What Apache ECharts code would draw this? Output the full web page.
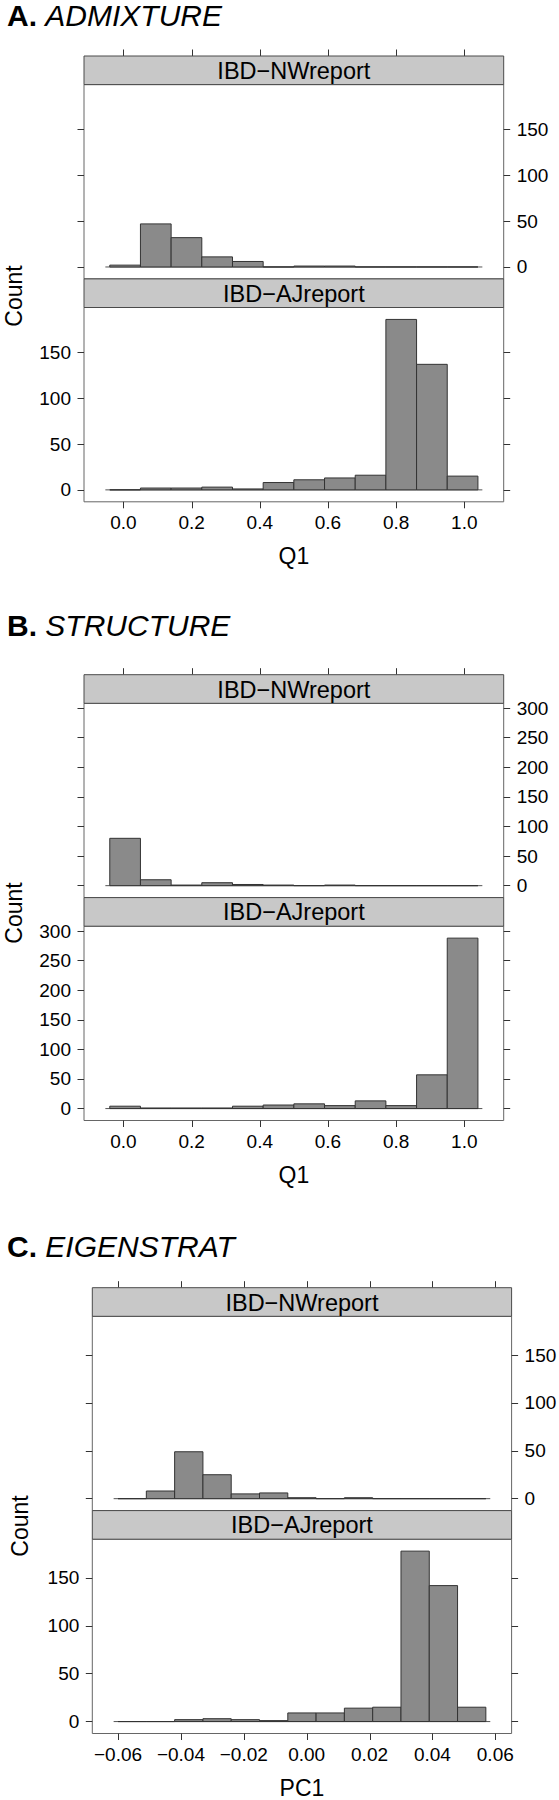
<!DOCTYPE html>
<html>
<head>
<meta charset="utf-8">
<script src="https://cdn.jsdelivr.net/npm/echarts@6/dist/echarts.min.js"></script>
<style>
html, body { margin: 0; padding: 0; background: #ffffff; }
#c { width: 559px; height: 1800px; }
</style>
</head>
<body>
<div id="c"></div>
<script>
// ---------------- data ----------------
const panelLetters = ['A.', 'B.', 'C.'];
const panelMethods = ['ADMIXTURE', 'STRUCTURE', 'EIGENSTRAT'];
const stripLabels = ['IBD\u2212NWreport', 'IBD\u2212AJreport'];
const xAxisNames = ['Q1', 'Q1', 'PC1'];
const yAxisName = 'Count';

const xTicksQ1 = [0, 0.2, 0.4, 0.6, 0.8, 1.0];
const xTicksPC1 = [-0.06, -0.04, -0.02, 0, 0.02, 0.04, 0.06];
const yTicksA = [0, 50, 100, 150];
const yTicksB = [0, 50, 100, 150, 200, 250, 300];
const yTicksC = [0, 50, 100, 150];

// histogram bin edges
const breaksA = [-0.04, 0.05, 0.14, 0.23, 0.32, 0.41, 0.50, 0.59, 0.68, 0.77, 0.86, 0.95, 1.04];
const breaksB = [-0.04, 0.05, 0.14, 0.23, 0.32, 0.41, 0.50, 0.59, 0.68, 0.77, 0.86, 0.95, 1.04];
const breaksC = [-0.060, -0.051, -0.042, -0.033, -0.024, -0.015, -0.006, 0.003, 0.012, 0.021, 0.030, 0.039, 0.048, 0.057];

// counts per bin
const countsA_NW = [2, 47, 32, 11, 6, 0, 1, 1, 0, 0, 0, 0];
const countsA_AJ = [0, 2, 2, 3, 1, 8, 11, 13, 16, 186, 137, 15];
const countsB_NW = [80, 10, 1, 5, 2, 1, 0, 1, 0, 0, 0, 0];
const countsB_AJ = [4, 1, 1, 1, 4, 6, 8, 5, 13, 5, 57, 288];
const countsC_NW = [0, 8, 49, 25, 5, 6, 1, 0, 1, 0, 0, 0, 0];
const countsC_AJ = [0, 0, 2, 3, 2, 1, 9, 9, 14, 15, 178, 142, 15];

// ---------------- layout / style ----------------
const FONT = '"Liberation Sans", Arial, Helvetica, sans-serif';
const STRIP_H = 28.6;
const PLOT_H = 194.3;
const TICK_LEN = 6.5;
const panels = [
  { letter: panelLetters[0], method: panelMethods[0], breaks: breaksA, nw: countsA_NW, aj: countsA_AJ,
    xTicks: xTicksQ1, yTicks: yTicksA, xName: xAxisNames[0], dec: 1,
    left: 84, width: 419.7, top: 56, titleY: 15.5, countX: 13.5, countY: 296 },
  { letter: panelLetters[1], method: panelMethods[1], breaks: breaksB, nw: countsB_NW, aj: countsB_AJ,
    xTicks: xTicksQ1, yTicks: yTicksB, xName: xAxisNames[1], dec: 1,
    left: 84, width: 419.7, top: 674.7, titleY: 625, countX: 13.5, countY: 913 },
  { letter: panelLetters[2], method: panelMethods[2], breaks: breaksC, nw: countsC_NW, aj: countsC_AJ,
    xTicks: xTicksPC1, yTicks: yTicksC, xName: xAxisNames[2], dec: 2,
    left: 92.3, width: 419.3, top: 1287.7, titleY: 1246, countX: 20, countY: 1526 }
];

const BAR_FILL = '#8a8a8a';
const BAR_STROKE = '#333333';
const FRAME = '#666666';
const TICK = '#333333';
const STRIP_FILL = '#c8c8c8';
const STRIP_STROKE = '#4a4a4a';

function fmt(dec) {
  return function (v) {
    const s = Math.abs(v).toFixed(dec);
    return (v < -1e-12 ? '\u2212' : '') + s;
  };
}

const grids = [], xAxes = [], yAxes = [], series = [], graphics = [];
const hiddenAxis = { axisLine: { show: false, onZero: false }, axisTick: { show: false },
  axisLabel: { show: false }, splitLine: { show: false } };

// tick marks along x, drawn through the axis scale of a thin helper grid
function xTickSeries(xIdx, yIdx, ticks) {
  return {
    type: 'custom', xAxisIndex: xIdx, yAxisIndex: yIdx, silent: true, z: 5,
    data: ticks.map(function (v) { return [v, 0]; }),
    encode: { x: 0, y: 1 },
    renderItem: function (params, api) {
      const v = api.value(0);
      const a = api.coord([v, 0]);
      const b = api.coord([v, 1]);
      const x = Math.round(a[0]) + 0.5;
      return { type: 'line', shape: { x1: x, y1: a[1], x2: x, y2: b[1] },
        style: { stroke: TICK, lineWidth: 1 } };
    },
    animation: false
  };
}

panels.forEach(function (p) {
  const b0 = p.breaks[0], bN = p.breaks[p.breaks.length - 1], span = bN - b0;
  const xmin = b0 - 0.07 * span, xmax = bN + 0.07 * span;
  const yMaxData = Math.max.apply(null, p.nw.concat(p.aj));
  const ymin = -0.07 * yMaxData, ymax = 1.07 * yMaxData;
  const panelBottom = p.top + 2 * (STRIP_H + PLOT_H);

  // title
  graphics.push({
    type: 'text', x: 7, y: p.titleY,
    style: {
      text: '{b|' + p.letter + '} {i|' + p.method + '}',
      rich: {
        b: { fontFamily: FONT, fontSize: 30, fontWeight: 'bold', fill: '#000' },
        i: { fontFamily: FONT, fontSize: 30, fontStyle: 'italic', fill: '#000' }
      },
      fontFamily: FONT, fontSize: 30,
      align: 'left', verticalAlign: 'middle', textAlign: 'left', textVerticalAlign: 'middle'
    }
  });

  // helper grid carrying the "Count" axis title
  const g = grids.length;
  grids.push({ left: p.left, top: p.countY - 100, width: p.width, height: 200, show: false,
    containLabel: false, outerBoundsMode: 'none' });
  xAxes.push(Object.assign({ gridIndex: g, type: 'value', min: 0, max: 1 }, hiddenAxis));
  yAxes.push(Object.assign({ gridIndex: g, type: 'value', min: 0, max: 1, position: 'left',
    name: yAxisName, nameLocation: 'middle', nameRotate: 90, nameGap: p.left - p.countX - 11.5,
    nameTextStyle: { fontSize: 23, color: '#000', fontFamily: FONT } }, hiddenAxis));

  // thin helper grids above and below the panel: carry the x tick marks
  [p.top - TICK_LEN, panelBottom].forEach(function (t) {
    const tg = grids.length;
    grids.push({ left: p.left, top: t, width: p.width, height: TICK_LEN, show: false,
      containLabel: false, outerBoundsMode: 'none' });
    const xi = xAxes.length, yi = yAxes.length;
    xAxes.push(Object.assign({ gridIndex: tg, type: 'value', min: xmin, max: xmax }, hiddenAxis));
    yAxes.push(Object.assign({ gridIndex: tg, type: 'value', min: 0, max: 1 }, hiddenAxis));
    series.push(xTickSeries(xi, yi, p.xTicks));
  });

  [p.nw, p.aj].forEach(function (counts, j) {
    const gi = grids.length;
    const stripTop = p.top + j * (STRIP_H + PLOT_H);
    const gtop = stripTop + STRIP_H;
    // strip
    graphics.push({
      type: 'rect', shape: { x: p.left, y: stripTop, width: p.width, height: STRIP_H },
      style: { fill: STRIP_FILL, stroke: STRIP_STROKE, lineWidth: 1 }, z: 10
    });
    graphics.push({
      type: 'text', x: p.left + p.width / 2, y: stripTop + STRIP_H / 2 + 0.5, z: 11,
      style: {
        text: stripLabels[j], fontFamily: FONT, fontSize: 23.5, fill: '#000',
        align: 'center', verticalAlign: 'middle', textAlign: 'center', textVerticalAlign: 'middle'
      }
    });

    grids.push({
      left: p.left, top: gtop, width: p.width, height: PLOT_H,
      show: true, borderColor: FRAME, borderWidth: 1, backgroundColor: 'transparent',
      containLabel: false, outerBoundsMode: 'none'
    });

    const isTop = j === 0;
    const xi = xAxes.length;
    xAxes.push({
      gridIndex: gi, type: 'value', min: xmin, max: xmax, position: 'bottom',
      axisLine: { show: false, onZero: false }, splitLine: { show: false },
      axisTick: { show: false },
      axisLabel: { show: !isTop, customValues: p.xTicks, margin: 11.5, formatter: fmt(p.dec),
        fontSize: 19, color: '#000', fontFamily: FONT },
      name: isTop ? '' : p.xName, nameLocation: 'middle', nameGap: 43,
      nameTextStyle: { fontSize: 23, color: '#000', fontFamily: FONT }
    });
    const yl = yAxes.length;
    ['left', 'right'].forEach(function (pos) {
      const showLab = (pos === 'left') ? !isTop : isTop;
      yAxes.push({
        gridIndex: gi, type: 'value', min: ymin, max: ymax, position: pos,
        axisLine: { show: false, onZero: false }, splitLine: { show: false },
        axisTick: { show: true, inside: false, length: TICK_LEN, customValues: p.yTicks, lineStyle: { color: TICK, width: 1 } },
        axisLabel: { show: showLab, customValues: p.yTicks, margin: 13, fontSize: 19, color: '#000', fontFamily: FONT }
      });
    });

    // baseline
    series.push({
      type: 'line', xAxisIndex: xi, yAxisIndex: yl, silent: true, symbol: 'none', z: 1,
      lineStyle: { color: '#555555', width: 1 },
      data: [[b0 - 0.012 * span, 0], [bN + 0.012 * span, 0]],
      animation: false
    });
    // histogram bars
    const bins = counts.map(function (c, i) { return [p.breaks[i], p.breaks[i + 1], c]; });
    series.push({
      type: 'custom', xAxisIndex: xi, yAxisIndex: yl, z: 2, silent: true,
      data: bins,
      encode: { x: [0, 1], y: 2 },
      renderItem: function (params, api) {
        const x0 = api.value(0), x1 = api.value(1), c = api.value(2);
        const a = api.coord([x0, c]);
        const b = api.coord([x1, 0]);
        return {
          type: 'rect',
          shape: { x: a[0], y: a[1], width: b[0] - a[0], height: b[1] - a[1] },
          style: { fill: BAR_FILL, stroke: BAR_STROKE, lineWidth: 1 }
        };
      },
      animation: false
    });
  });
});

const chart = echarts.init(document.getElementById('c'), null, { renderer: 'svg', width: 559, height: 1800 });
chart.setOption({
  animation: false,
  backgroundColor: '#ffffff',
  textStyle: { fontFamily: FONT },
  grid: grids,
  xAxis: xAxes,
  yAxis: yAxes,
  series: series,
  graphic: graphics
});
</script>
</body>
</html>
